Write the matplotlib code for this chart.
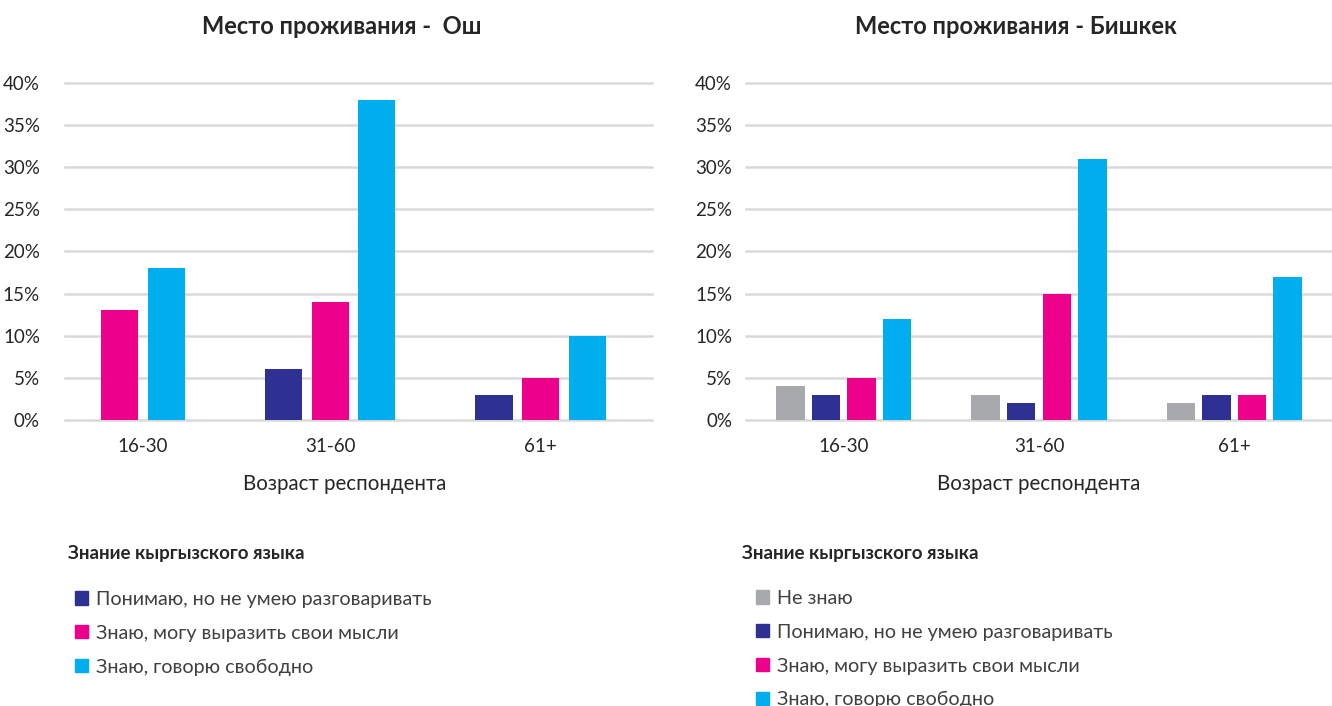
import matplotlib
matplotlib.use("Agg")
import matplotlib.pyplot as plt
from matplotlib.patches import Patch
import numpy as np

plt.rcParams['font.family'] = ['Lato', 'DejaVu Sans']

ages = ['16-30', '31-60', '61+']

# Ош: no "Не знаю" series
osh_series = ['Понимаю, но не умею разговаривать',
              'Знаю, могу выразить свои мысли',
              'Знаю, говорю свободно']
osh_values = [
    [0, 6, 3],
    [13, 14, 5],
    [18, 38, 10],
]
osh_colors = ['#2E3192', '#EC008C', '#00AEEF']

bishkek_series = ['Не знаю',
                  'Понимаю, но не умею разговаривать',
                  'Знаю, могу выразить свои мысли',
                  'Знаю, говорю свободно']
bishkek_values = [
    [4, 3, 2],
    [3, 2, 3],
    [5, 15, 3],
    [12, 31, 17],
]
bishkek_colors = ['#A7A9AC', '#2E3192', '#EC008C', '#00AEEF']

yticks = [0, 5, 10, 15, 20, 25, 30, 35, 40]

W, H = 1332, 706
fig = plt.figure(figsize=(W / 100, H / 100), dpi=100)
TXT = '#262626'


def px_axes(x0, x1, y_top, y_bot):
    return fig.add_axes([x0 / W, 1 - y_bot / H, (x1 - x0) / W, (y_bot - y_top) / H])


def draw_panel(ax, values, colors, pitch, width, xlim, ypad):
    n = len(values)
    offsets = (np.arange(n) - (n - 1) / 2) * pitch
    x = np.arange(len(ages))
    for vals, c, off in zip(values, colors, offsets):
        v = np.array(vals, dtype=float)
        m = v > 0
        ax.bar(x[m] + off, v[m], width=width, color=c, zorder=3)
    # tick labels sit under the bars that are actually drawn
    centers = []
    for i in range(len(ages)):
        offs = [offsets[k] for k in range(n) if values[k][i] > 0]
        centers.append(i + np.mean(offs))
    ax.set_xticks(centers)
    ax.set_xticklabels(ages, fontsize=13.5, color=TXT)
    ax.set_xlim(*xlim)
    ax.set_ylim(0, 40)
    ax.set_yticks(yticks)
    ax.set_yticklabels([f'{t}%' for t in yticks], fontsize=13.5, color=TXT)
    for t in yticks:
        ax.axhline(t, color='#D9D9D9', lw=1.8, zorder=1, clip_on=False)
    for s in ax.spines.values():
        s.set_visible(False)
    ax.tick_params(length=0)
    ax.tick_params(axis='x', pad=13)
    ax.tick_params(axis='y', pad=ypad)


ax1 = px_axes(65, 652, 82.7, 420)
draw_panel(ax1, osh_values, osh_colors, 0.222, 0.176, (-0.258, 2.528), 18)
ax2 = px_axes(746, 1332, 82.7, 420)
draw_panel(ax2, bishkek_values, bishkek_colors, 0.182, 0.146, (-0.5, 2.5), 10)

fig.text(342 / W, 1 - 27 / H, 'Место проживания -  Ош', ha='center', va='center',
         fontsize=17, fontweight='bold', color=TXT)
fig.text(1016 / W, 1 - 27 / H, 'Место проживания - Бишкек', ha='center', va='center',
         fontsize=17, fontweight='bold', color=TXT)
fig.text(345 / W, 1 - 484 / H, 'Возраст респондента', ha='center', va='center',
         fontsize=14.8, color=TXT)
fig.text(1039 / W, 1 - 484 / H, 'Возраст респондента', ha='center', va='center',
         fontsize=14.8, color=TXT)

fig.text(68 / W, 1 - 553 / H, 'Знание кыргызского языка', ha='left', va='center',
         fontsize=13.5, fontweight='bold', color=TXT)
fig.text(742 / W, 1 - 553 / H, 'Знание кыргызского языка', ha='left', va='center',
         fontsize=13.5, fontweight='bold', color=TXT)

for series, colors, x0, ytop in [(osh_series, osh_colors, 75, 591),
                                 (bishkek_series, bishkek_colors, 756, 590)]:
    handles = [Patch(color=c, label=s) for s, c in zip(series, colors)]
    fig.legend(handles=handles, loc='upper left', bbox_to_anchor=(x0 / W, 1 - ytop / H),
               frameon=False, fontsize=14.2, handlelength=0.65, handleheight=0.65,
               handletextpad=0.4, labelspacing=0.85, borderpad=0, borderaxespad=0,
               labelcolor='#404040')

fig.savefig('out.png', dpi=100)
